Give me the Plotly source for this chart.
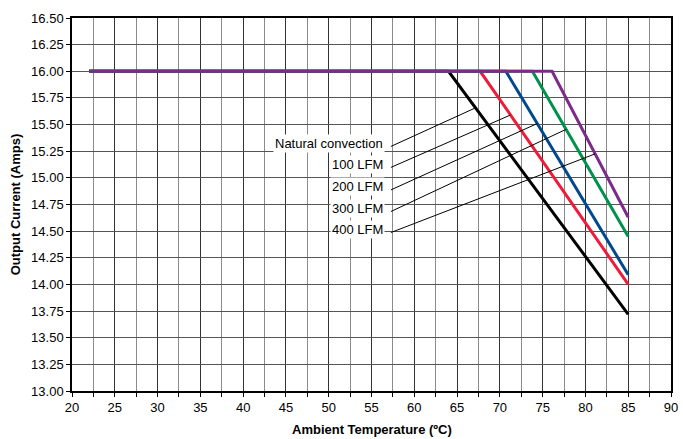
import numpy as np
import plotly.graph_objects as go

# derating curves
series_names = ["Natural convection", "100 LFM", "200 LFM", "300 LFM", "400 LFM"]
series_colors = ["#000000", "#ee1c3a", "#00498d", "#00924a", "#7d2b8b"]
temp_natural = [22, 64.0, 85]
amps_natural = [16.0, 16.0, 13.72]
temp_100 = [22, 67.7, 85]
amps_100 = [16.0, 16.0, 14.00]
temp_200 = [22, 70.7, 85]
amps_200 = [16.0, 16.0, 14.09]
temp_300 = [22, 73.8, 85]
amps_300 = [16.0, 16.0, 14.45]
temp_400 = [22, 76.1, 85]
amps_400 = [16.0, 16.0, 14.63]

temps = [temp_natural, temp_100, temp_200, temp_300, temp_400]
amps = [amps_natural, amps_100, amps_200, amps_300, amps_400]

x_ticks = list(range(20, 95, 5))
y_ticks = [13.00 + 0.25 * i for i in range(15)]

FONT = "Liberation Sans, Arial, sans-serif"

fig = go.Figure()
for t, a, name, color in zip(temps, amps, series_names, series_colors):
    fig.add_trace(go.Scatter(x=t, y=a, mode="lines", name=name,
                             line=dict(color=color, width=3)))

# label callouts: text at left, leader line to a point on each curve
label_x = 56.6
label_y = [15.325, 15.128, 14.917, 14.714, 14.517]
leader_x0 = 57.27
leader_target_amps = [15.657, 15.59, 15.51, 15.455, 15.225]
for i, name in enumerate(series_names):
    t, a = temps[i], amps[i]
    # temperature on the falling part of the curve for the target current
    tx = float(np.interp(leader_target_amps[i], a[:0:-1], t[:0:-1]))
    fig.add_shape(type="line", x0=leader_x0, y0=label_y[i] - 0.03,
                  x1=tx, y1=leader_target_amps[i],
                  line=dict(color="black", width=1), layer="above")
    fig.add_annotation(x=label_x, y=label_y[i], text=name, showarrow=False,
                       xanchor="right", yanchor="middle", bgcolor="white",
                       borderpad=1, font=dict(family=FONT, size=13, color="black"))

# x axis title sits low, close to the bottom edge
fig.add_annotation(xref="paper", yref="paper", x=0.5, y=0, yshift=-38,
                   text="<b>Ambient Temperature (ºC)</b>", showarrow=False,
                   xanchor="center", yanchor="middle",
                   font=dict(family=FONT, size=13, color="black"))

fig.update_layout(
    width=683, height=439,
    margin=dict(l=72, r=10, t=18, b=48),
    paper_bgcolor="white", plot_bgcolor="white",
    showlegend=False,
    font=dict(family=FONT, size=13, color="black"),
)
fig.update_xaxes(
    range=[20, 90], tickvals=x_ticks, ticks="outside", ticklen=4,
    tickcolor="black", showline=True, linecolor="black", linewidth=1.5,
    mirror=True, showgrid=True, gridcolor="#333333", gridwidth=1.3,
    minor=dict(dtick=2.5, showgrid=True, gridcolor="#8a8a8a", gridwidth=1.3,
               ticks="outside", ticklen=4, tickcolor="black"),
    zeroline=False, automargin=False,
)
fig.update_yaxes(
    range=[13.0, 16.5], tickvals=y_ticks, tickformat=".2f", ticks="outside",
    ticklen=4, tickcolor="black", showline=True, linecolor="black",
    linewidth=1.5, mirror=True, showgrid=True, gridcolor="#555555",
    gridwidth=1.3, zeroline=False,
    title=dict(text="<b>Output Current (Amps)</b>", standoff=8,
               font=dict(family=FONT, size=13)),
)

# drop the default page margin so the figure fills the window exactly
page_js = ("document.body.style.margin = '0';"
           "document.documentElement.style.overflow = 'hidden';")
fig.write_html("out.html", post_script=page_js,
               config={"displayModeBar": False})
